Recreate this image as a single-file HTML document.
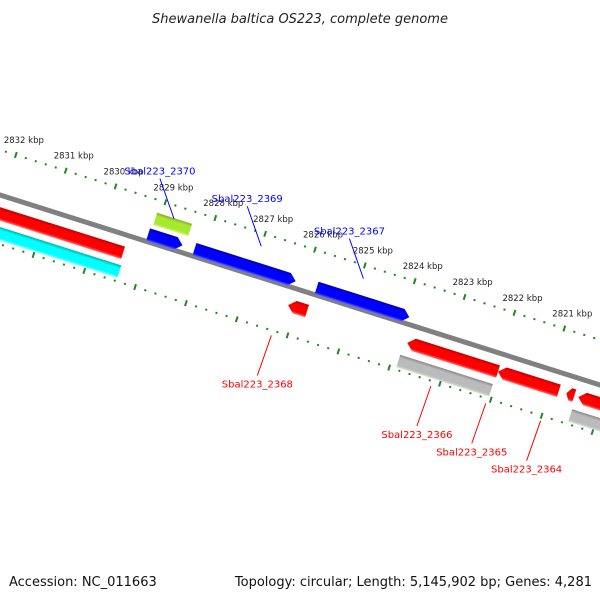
<!DOCTYPE html>
<html><head><meta charset="utf-8">
<style>
html,body{margin:0;padding:0;background:#fff;}
svg{display:block;font-family:"DejaVu Sans","Liberation Sans",sans-serif;}
</style></head>
<body>
<svg id="chart" width="600" height="600" viewBox="0 0 600 600" xmlns="http://www.w3.org/2000/svg">
<defs>
<linearGradient id="g-red" x1="0" y1="0" x2="0" y2="1"><stop offset="0" stop-color="#c00000"/><stop offset="0.25" stop-color="#ff0000"/><stop offset="0.8" stop-color="#ff0000"/><stop offset="1" stop-color="#ff7070"/></linearGradient>
<linearGradient id="g-blue" x1="0" y1="0" x2="0" y2="1"><stop offset="0" stop-color="#0000b0"/><stop offset="0.25" stop-color="#0000ff"/><stop offset="0.8" stop-color="#0000ff"/><stop offset="1" stop-color="#6070ff"/></linearGradient>
<linearGradient id="g-cyan" x1="0" y1="0" x2="0" y2="1"><stop offset="0" stop-color="#00b0b0"/><stop offset="0.25" stop-color="#00ffff"/><stop offset="0.8" stop-color="#00ffff"/><stop offset="1" stop-color="#80ffff"/></linearGradient>
<linearGradient id="g-green" x1="0" y1="0" x2="0" y2="1"><stop offset="0" stop-color="#80b020"/><stop offset="0.25" stop-color="#a8e830"/><stop offset="0.8" stop-color="#a8e830"/><stop offset="1" stop-color="#d0ff80"/></linearGradient>
<linearGradient id="g-grey" x1="0" y1="0" x2="0" y2="1"><stop offset="0" stop-color="#888"/><stop offset="0.25" stop-color="#bbb"/><stop offset="0.8" stop-color="#bbb"/><stop offset="1" stop-color="#ddd"/></linearGradient>
</defs>
<text x="300" y="23" text-anchor="middle" font-size="13" font-style="italic" fill="#222">Shewanella baltica OS223, complete genome</text>
<g id="rot" transform="translate(0,195) rotate(17.57)"></g>
<g id="labels"></g>
<text x="9" y="586" font-size="13" fill="#111">Accession: NC_011663</text>
<text x="592" y="586" text-anchor="end" font-size="13" fill="#111">Topology: circular; Length: 5,145,902 bp; Genes: 4,281</text>
</svg>
<script>
const topTicks = [2832,2831,2830,2829,2828,2827,2826,2825,2824,2823,2822,2821];
const geneStart = [2833.2,2833.2,2829.09,2829.13,2828.20,2825.75,2826.17,2823.78,2821.96,2820.59,2820.35,2823.84,2820.39];
const geneEnd   = [2829.48,2829.44,2828.39,2828.44,2826.17,2823.89,2825.79,2821.96,2820.74,2820.43,2819.44,2821.98,2819.44];
const geneLane  = ['red','cyan','green','blue','blue','blue','red','red','red','red','red','grey','grey'];
const geneDir   = [0,0,0,1,1,1,-1,-1,-1,-1,-1,0,0];
const labelNames = ['Sbal223_2370','Sbal223_2369','Sbal223_2367','Sbal223_2368','Sbal223_2366','Sbal223_2365','Sbal223_2364'];
const labelKbp   = [2828.75,2827.0,2824.95,2826.3,2823.1,2822.0,2820.9];

const NS='http://www.w3.org/2000/svg';
const ANG=17.57*Math.PI/180, C=Math.cos(ANG), S=Math.sin(ANG);
const U0=3, SCALE=52.3;
function uOf(k){return U0+(2832-k)*SCALE;}
function toScreen(u,v){return [u*C - v*S, 195 + u*S + v*C];}
const laneV={blue:-7,green:-24,red:18,cyan:37,grey:38};
const laneFill={blue:'url(#g-blue)',green:'url(#g-green)',red:'url(#g-red)',cyan:'url(#g-cyan)',grey:'url(#g-grey)'};
const rot=document.getElementById('rot'), lab=document.getElementById('labels');
function mk(tag,attrs,parent){const e=document.createElementNS(NS,tag);for(const k in attrs)e.setAttribute(k,attrs[k]);parent.appendChild(e);return e;}

// top scale
for(let k=2833; k>=2820; k-=0.2){
  const kk=Math.round(k*10)/10; const u=uOf(kk);
  const major=Math.abs(kk-Math.round(kk))<0.01;
  const t=mk('line',{x1:u,x2:u,y1:major?-46:-44,y2:major?-40:-42,stroke:'#1a8a1a','stroke-width':2},rot);
  
  
}
topTicks.forEach(k=>{
  const p=toScreen(uOf(k),-43);
  const t=mk('text',{x:p[0]-12,y:p[1]-12,'font-size':8.5,fill:'#222'},lab);
  t.textContent=k+' kbp';
  
  
});
// bottom scale
const B0=50, BS=53.3;
for(let j=-2;j<=13;j++){
  for(let m=0;m<5;m++){
    const u=B0+(j+m/5)*BS; const major=m===0;
    const t=mk('line',{x1:u,x2:u,y1:major?44:46,y2:major?50:48,stroke:'#1a8a1a','stroke-width':2},rot);
    
    
  }
}
// backbone
const bb=mk('line',{x1:-50,x2:720,y1:0,y2:0,stroke:'#808080','stroke-width':5},rot);


// genes
for(let i=0;i<geneStart.length;i++){
  const a=uOf(geneStart[i]), b=uOf(geneEnd[i]);
  const v=laneV[geneLane[i]], h=13, t=v-h/2, bt=v+h/2, d=geneDir[i];
  const tip=Math.min(7,(b-a)/2);
  let pts;
  if(d===1) pts=[[a,t],[b-tip,t],[b,v],[b-tip,bt],[a,bt]];
  else if(d===-1) pts=[[a+tip,t],[b,t],[b,bt],[a+tip,bt],[a,v]];
  else pts=[[a,t],[b,t],[b,bt],[a,bt]];
  const g=mk('polygon',{points:pts.map(p=>p.join(',')).join(' '),fill:laneFill[geneLane[i]]},rot);
  
  
}
// gene labels
labelNames.forEach((n,i)=>{
  const top=i<3;
  const u=uOf(labelKbp[i]);
  const p=toScreen(u, top?-30:52);
  const ty= top ? p[1]-48 : p[1]+48;
  const tx= p[0]-14;
  const ln=mk('line',{x1:p[0],y1:p[1],x2:tx,y2:top?ty+8:ty-8,stroke:top?'#0000ff':'#ff0000','stroke-width':1},lab);
  
  
  const t=mk('text',{x:tx,y:ty+(top?4:4),'text-anchor':'middle','font-size':10,fill:top?'#0000ff':'#ff0000'},lab);
  t.textContent=n;
  
  
});
</script>
</body></html>
